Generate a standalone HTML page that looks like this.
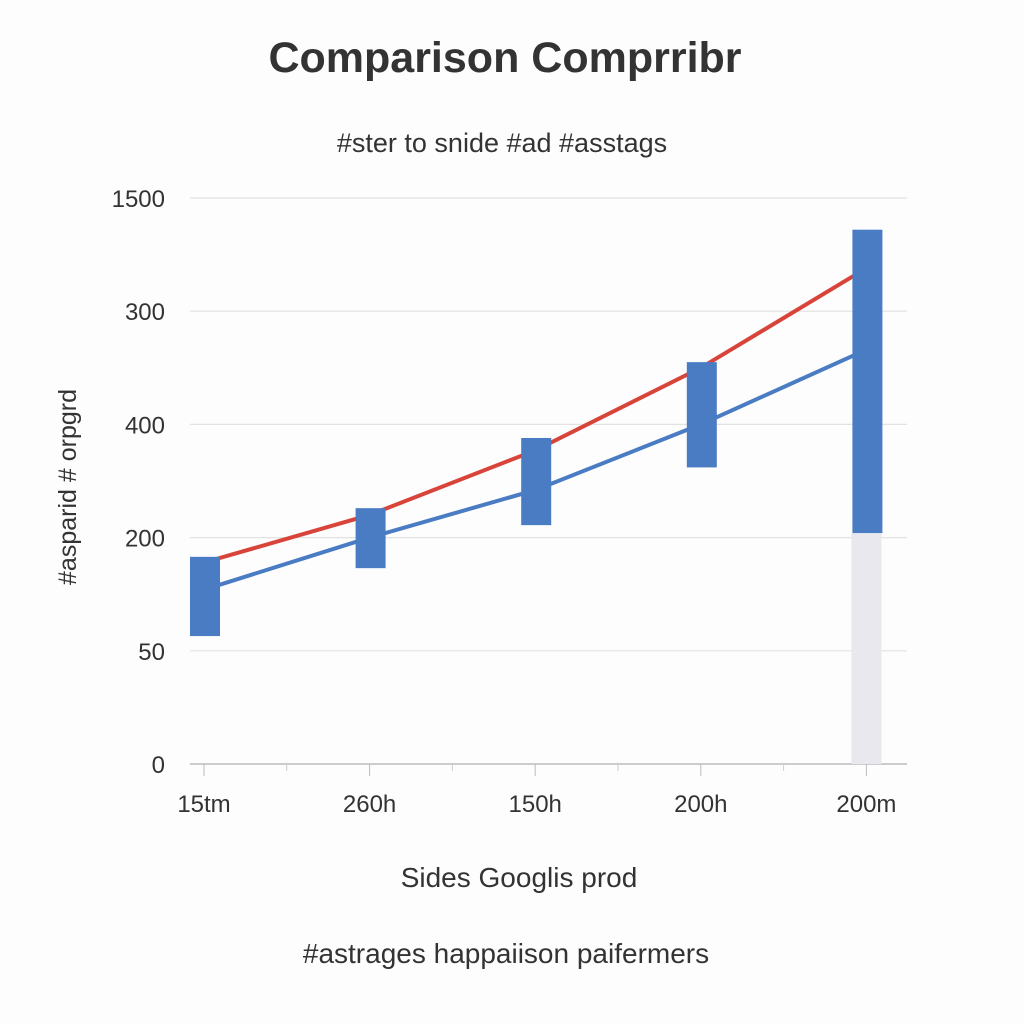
<!DOCTYPE html>
<html><head><meta charset="utf-8"><style>
body{margin:0;background:#fff;}
svg text{font-family:"Liberation Sans",sans-serif;fill:#333;}
</style></head><body>
<svg width="1024" height="1024" viewBox="0 0 1024 1024">
<rect width="1024" height="1024" fill="#fdfdfe"/>
<text x="505" y="72" text-anchor="middle" font-size="43" font-weight="bold">Comparison Comprribr</text>
<text x="502" y="152" text-anchor="middle" font-size="27">#ster to snide #ad #asstags</text>
<g id="grid"></g><g id="marks"></g>
<text transform="translate(76,487) rotate(-90)" text-anchor="middle" font-size="25">#asparid # orpgrd</text>
<text x="519" y="887" text-anchor="middle" font-size="28">Sides Googlis prod</text>
<text x="506" y="963" text-anchor="middle" font-size="28">#astrages happaiison paifermers</text>
</svg>
<script>
const yTickLabels=["0","50","200","400","300","1500"];
const categories=["15tm","260h","150h","200h","200m"];
const redSeries=[1.78,2.2,2.77,3.5,4.38];
const blueSeries=[1.54,2.0,2.42,3.0,3.66];
const barHigh=[1.83,2.26,2.88,3.55,4.72];
const barLow=[1.13,1.73,2.11,2.62,2.04];
const grayHigh=[0,0,0,0,2.04];
const NS="http://www.w3.org/2000/svg";
const y0=764,step=113.2,x0=204,xs=165.6;
const Y=v=>y0-v*step, X=i=>x0+i*xs;
function mk(t,a,p){const e=document.createElementNS(NS,t);for(const k in a)e.setAttribute(k,a[k]);p.appendChild(e);return e;}
const g=document.getElementById('grid'),m=document.getElementById('marks');
yTickLabels.forEach((l,i)=>{
 const ln=mk('line',{x1:190,x2:907,y1:Y(i),y2:Y(i),stroke:i==0?'#bbb':'#e2e2e2','stroke-width':i==0?1.5:1.2},g);
 
 
 const t=mk('text',{x:165,y:Y(i)+9,'text-anchor':'end','font-size':24},g);t.textContent=l;
 
 
});
categories.forEach((c,i)=>{
 mk('line',{x1:X(i),x2:X(i),y1:764,y2:776,stroke:'#bbb'},g);
 if(i<categories.length-1)mk('line',{x1:X(i+0.5),x2:X(i+0.5),y1:764,y2:771,stroke:'#ccc'},g);
 const t=mk('text',{x:X(i),y:812,'text-anchor':'middle','font-size':24},g);t.textContent=c;
 
 
});
grayHigh.forEach((v,i)=>{if(v>0){const r=mk('rect',{x:X(i)-15,y:Y(v),width:30,height:Y(0)-Y(v),fill:'#e8e8ee'},m);
 
 }});
function line(arr,col,name){const p=mk('polyline',{points:arr.map((v,i)=>X(i)+','+Y(v)).join(' '),fill:'none',stroke:col,'stroke-width':4},m);
 
 }
line(redSeries,'#d9443a','red-series-line');
line(blueSeries,'#4a7cc4','blue-series-line');
barHigh.forEach((v,i)=>{const r=mk('rect',{x:X(i)-14,y:Y(v),width:30,height:Y(barLow[i])-Y(v),fill:'#4a7cc4'},m);
 
 });
</script>
</body></html>
